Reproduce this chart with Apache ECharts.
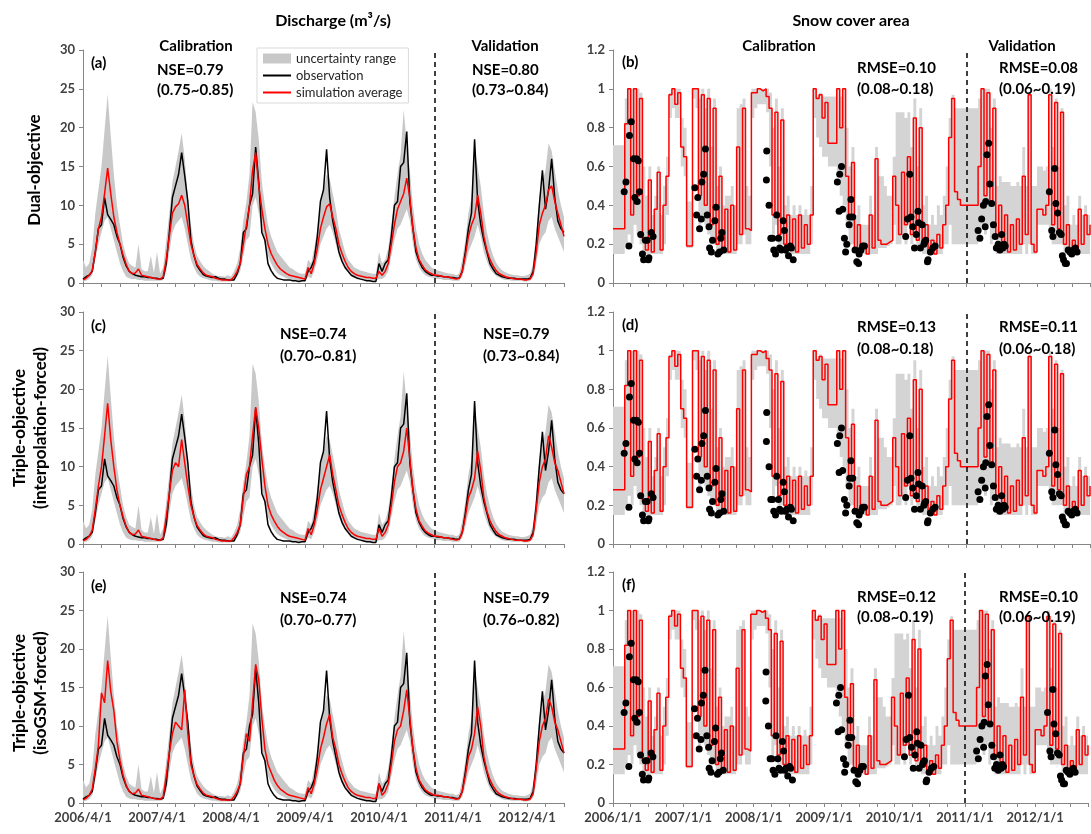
<!DOCTYPE html>
<html>
<head>
<meta charset="utf-8">
<title>Discharge and snow cover area</title>
<script src="https://cdn.jsdelivr.net/npm/echarts@6/dist/echarts.min.js"></script>
<style>
  html, body { margin: 0; padding: 0; background: #fff; }
  #main { width: 1091px; height: 834px; }
</style>
</head>
<body>
<div id="main"></div>
<script>
// discharge (m3/s), one value every half month from 2006/4/1
var qObs = [
  0.5,0.8,1.0,1.5,4.0,7.0,7.5,11.0,8.8,8.2,7.5,6.0,5.0,3.3,2.2,1.5,1.2,1.0,0.9,0.8,0.8,0.7,0.7,0.6,
  0.6,0.5,0.6,2.5,6.5,11.0,12.5,14.0,16.8,13.8,10.5,5.5,3.5,2.2,1.6,1.1,0.9,0.8,0.7,0.8,0.6,0.5,0.5,0.4,
  0.4,0.4,1.2,2.5,6.5,7.0,10.0,11.5,17.5,13.0,6.5,5.5,2.5,1.6,1.0,0.6,0.5,0.4,0.4,0.4,0.3,0.3,0.2,0.3,
  0.3,1.5,2.0,3.0,6.0,10.5,12.0,17.2,11.0,8.0,6.0,4.0,2.8,2.0,1.5,1.0,0.8,0.6,0.5,0.4,0.3,0.3,0.2,0.2,
  2.5,1.5,2.5,3.0,6.0,10.0,10.5,15.0,15.5,19.5,10.5,7.0,4.0,2.8,2.0,1.5,1.2,1.0,1.0,0.9,0.9,0.8,0.8,0.7,
  0.7,0.6,0.6,1.5,4.0,7.0,9.0,18.5,10.5,7.5,5.5,4.0,2.5,1.8,1.2,1.0,0.8,0.7,0.6,0.6,0.6,0.5,0.5,0.5,
  0.5,0.6,1.5,5.0,10.0,14.5,9.5,12.0,16.0,11.0,8.0,7.0,6.5
];
var qSimA = [
  0.4,0.6,1.0,1.6,4.0,7.0,8.5,11.5,14.8,11.5,8.5,6.5,5.0,3.6,2.4,1.5,1.2,1.3,1.8,1.0,0.9,0.8,0.7,0.6,
  0.5,0.5,0.8,3.0,6.0,9.0,9.8,10.2,11.3,10.0,7.5,5.0,3.5,2.4,1.8,1.3,1.0,0.9,0.8,0.6,0.5,0.4,0.4,0.4,
  0.4,0.8,1.5,2.5,5.0,7.5,10.0,14.5,16.8,12.5,9.5,7.0,5.0,3.8,3.0,2.3,1.8,1.5,1.2,1.0,0.9,0.8,0.7,0.6,
  0.5,2.0,1.2,2.5,4.5,7.0,8.5,9.8,10.2,8.5,7.0,5.0,3.8,2.8,2.0,1.5,1.2,1.0,0.9,0.8,0.7,0.7,0.6,0.6,
  1.5,1.0,1.5,2.5,5.0,7.5,9.5,10.5,11.5,13.5,11.0,7.0,4.5,3.0,2.3,1.7,1.4,1.2,1.0,1.0,0.9,0.8,0.8,0.7,
  0.6,0.5,0.6,1.5,3.5,6.0,7.5,8.5,11.3,9.0,6.0,4.2,3.0,2.2,1.6,1.2,1.0,0.8,0.7,0.6,0.5,0.5,0.5,0.4,
  0.4,0.5,1.2,4.0,7.5,9.0,10.0,12.0,12.5,10.5,9.0,7.5,6.0
];
var qSimC = [
  0.4,0.6,1.0,1.8,4.5,7.5,10.0,14.0,18.2,13.5,10.0,7.0,5.0,3.5,2.3,1.5,1.2,1.3,1.8,1.0,0.9,0.8,0.7,0.6,
  0.5,0.5,0.8,3.5,6.5,9.5,10.5,10.0,13.5,10.5,7.5,5.0,3.5,2.4,1.8,1.3,1.0,0.9,0.8,0.6,0.5,0.4,0.4,0.4,
  0.4,0.8,1.5,2.5,6.0,9.0,10.0,14.0,17.7,15.0,11.0,7.5,5.0,3.8,3.0,2.3,1.8,1.5,1.2,1.0,0.9,0.8,0.7,0.6,
  0.5,2.0,1.2,2.5,4.5,7.0,8.5,10.0,11.5,9.0,7.0,5.0,3.8,2.8,2.0,1.5,1.2,1.0,0.9,0.8,0.7,0.7,0.6,0.6,
  2.0,1.0,1.5,2.5,5.0,8.0,10.0,10.5,12.0,15.0,11.0,7.0,4.5,3.0,2.3,1.7,1.4,1.2,1.0,1.0,0.9,0.8,0.8,0.7,
  0.6,0.5,0.6,1.5,3.5,6.0,7.0,8.5,12.0,9.5,6.0,4.2,3.0,2.2,1.6,1.2,1.0,0.8,0.7,0.6,0.5,0.5,0.5,0.4,
  0.4,0.5,1.2,4.5,8.0,10.0,11.0,14.0,12.5,10.5,9.5,8.0,6.5
];
var qSimE = [
  0.4,0.6,1.0,1.8,4.5,7.5,14.3,13.0,18.5,14.5,12.0,8.0,5.5,3.6,2.3,1.5,1.2,1.3,1.8,1.0,0.9,0.8,0.7,0.6,
  0.5,0.5,0.8,3.5,6.5,9.0,10.5,10.0,9.5,14.7,9.0,5.0,3.5,2.4,1.8,1.3,1.0,0.9,0.8,0.6,0.5,0.4,0.4,0.4,
  0.4,0.8,1.5,2.5,6.0,9.0,8.0,13.0,18.0,16.0,11.0,7.0,5.0,4.0,3.0,2.3,1.8,1.5,1.2,1.0,0.9,0.8,0.7,0.6,
  0.5,2.0,1.2,2.5,4.5,7.0,8.5,10.3,11.5,8.5,7.0,5.0,3.8,2.8,2.0,1.5,1.2,1.0,0.9,0.8,0.7,0.7,0.6,0.6,
  2.5,1.0,1.5,2.5,5.0,8.0,9.5,10.0,12.0,14.7,11.0,7.0,4.5,3.0,2.3,1.7,1.4,1.2,1.0,1.0,0.9,0.8,0.8,0.7,
  0.6,0.5,0.6,1.5,3.5,6.0,7.0,9.0,12.5,10.0,6.0,4.2,3.0,2.2,1.6,1.2,1.0,0.8,0.7,0.6,0.5,0.5,0.5,0.4,
  0.4,0.5,1.2,4.5,8.0,10.0,11.0,13.5,12.5,10.5,9.5,8.0,6.5
];
var qHigh = [
  3.0,2.0,2.5,4.5,9.0,12.0,15.0,19.7,24.3,19.0,14.0,10.0,7.5,5.0,3.5,2.5,2.2,2.0,5.0,1.8,1.5,1.5,3.5,1.3,
  4.0,1.2,2.0,5.5,9.0,13.0,15.0,17.0,19.3,16.0,11.0,7.5,5.0,3.5,2.8,2.2,1.8,1.5,1.2,1.0,0.9,0.9,0.8,1.0,
  0.8,1.5,2.5,4.5,8.0,10.5,14.0,23.3,22.0,18.5,13.0,10.0,7.5,6.0,5.0,4.0,3.5,3.0,2.5,2.0,1.8,1.5,1.3,1.2,
  1.2,3.0,2.5,4.5,7.0,10.0,12.0,14.0,13.5,11.5,9.5,7.0,5.5,4.0,3.0,2.5,2.0,1.8,1.6,1.5,1.4,1.3,1.2,1.2,
  4.0,2.5,3.0,4.5,7.5,11.0,14.0,16.5,22.3,18.0,14.5,10.0,7.0,5.0,3.8,3.0,2.5,2.0,1.8,1.6,1.5,1.4,1.3,1.2,
  1.2,1.0,1.2,3.0,5.5,9.0,11.0,17.0,15.0,12.5,9.0,6.5,4.8,3.5,2.6,2.0,1.6,1.4,1.2,1.1,1.0,1.0,0.9,0.9,
  1.0,1.2,2.5,6.5,11.0,13.0,14.5,18.0,17.0,14.5,12.0,10.0,8.5
];
var qLow = [
  0.2,0.3,0.5,1.0,3.0,5.0,6.5,8.0,8.5,7.0,5.5,4.0,2.5,1.5,0.8,0.6,0.5,0.5,0.4,0.4,0.3,0.3,0.3,0.3,
  0.3,0.3,0.4,1.5,4.0,6.5,7.5,8.0,8.5,7.0,5.0,3.0,2.0,1.2,0.8,0.6,0.5,0.4,0.3,0.3,0.2,0.2,0.2,0.2,
  0.2,0.4,0.8,1.5,3.5,5.5,6.0,10.0,11.0,9.0,7.0,5.0,3.5,2.5,1.8,1.3,1.0,0.8,0.6,0.5,0.4,0.4,0.3,0.3,
  0.2,0.8,0.6,1.5,3.0,5.0,6.0,7.0,7.5,6.5,5.0,3.5,2.5,1.8,1.3,1.0,0.8,0.6,0.5,0.4,0.4,0.3,0.3,0.3,
  0.5,0.5,0.8,1.5,3.5,5.5,7.0,7.5,8.5,9.5,8.0,5.0,3.0,2.0,1.4,1.0,0.8,0.7,0.6,0.5,0.5,0.4,0.4,0.4,
  0.3,0.3,0.3,0.8,2.2,4.0,5.0,6.0,7.5,6.0,4.0,2.8,1.8,1.3,0.9,0.7,0.5,0.4,0.4,0.3,0.3,0.3,0.3,0.2,
  0.2,0.3,0.7,2.5,5.0,6.0,6.5,8.0,8.5,7.0,6.0,5.0,4.0
];

// snow cover area, one value every half month from 2006/1/1
var scaSim = [
  0.28,0.28,0.28,0.28,0.82,1.0,0.35,1.0,0.45,0.95,0.22,0.17,0.53,0.16,0.38,0.57,0.17,0.40,0.55,0.97,1.0,0.92,0.98,0.70,
  0.65,0.19,0.19,1.0,1.0,0.45,0.97,0.40,0.95,0.30,0.90,0.20,0.55,0.16,0.38,0.16,0.40,0.17,0.70,0.25,0.90,0.28,0.27,0.98,
  0.98,1.0,0.99,1.0,0.96,0.90,0.35,0.88,0.25,0.84,0.20,0.35,0.17,0.33,0.16,0.35,0.18,0.30,0.20,0.35,1.0,0.95,0.97,0.85,
  0.93,0.72,0.72,0.72,1.0,0.80,1.0,0.55,0.35,0.62,0.18,0.30,0.16,0.20,0.15,0.35,0.18,0.64,0.22,0.20,0.20,0.21,0.22,0.55,
  0.40,0.25,0.57,0.30,0.65,0.25,0.85,0.22,0.80,0.20,0.30,0.16,0.22,0.15,0.25,0.18,0.30,0.40,0.75,0.95,0.47,0.43,0.40,0.40,
  0.40,0.40,0.40,0.40,0.60,1.0,0.45,0.98,0.40,0.90,0.25,0.40,0.17,0.35,0.16,0.30,0.17,0.33,0.20,0.55,0.25,0.97,0.20,0.16,
  0.38,0.38,0.35,0.40,0.97,0.30,0.93,0.28,0.88,0.20,0.30,0.15,0.22,0.16,0.38,0.20,0.35,0.25,0.30
];
var scaHigh = [
  0.71,0.71,0.71,0.71,0.95,1.0,1.0,1.0,1.0,0.98,0.60,0.45,0.60,0.35,0.45,0.60,0.35,0.50,0.65,0.98,1.0,1.0,1.0,0.85,
  0.80,0.42,0.42,1.0,1.0,0.95,1.0,0.90,1.0,0.70,0.95,0.50,0.60,0.40,0.45,0.45,0.50,0.40,0.90,0.92,0.95,0.50,0.45,1.0,
  1.0,1.0,1.0,1.0,1.0,0.98,0.80,0.95,0.60,0.90,0.40,0.45,0.35,0.40,0.35,0.40,0.35,0.38,0.35,0.50,1.0,0.96,0.98,0.96,
  0.96,0.96,0.96,0.96,1.0,0.96,1.0,0.80,0.60,0.70,0.35,0.40,0.30,0.30,0.30,0.45,0.35,0.70,0.55,0.55,0.50,0.45,0.45,0.65,
  0.88,0.88,0.88,0.85,0.88,0.70,0.95,0.60,0.90,0.40,0.45,0.30,0.35,0.30,0.40,0.35,0.45,0.60,0.85,0.97,0.90,0.90,0.90,0.90,
  0.90,0.90,0.90,0.90,0.95,1.0,1.0,1.0,0.80,0.95,0.50,0.55,0.52,0.52,0.52,0.50,0.50,0.52,0.50,0.70,0.50,0.98,0.50,0.50,
  0.60,0.60,0.58,0.60,1.0,0.70,0.95,0.60,0.90,0.40,0.45,0.30,0.35,0.30,0.45,0.35,0.40,0.35,0.35
];
var scaLow = [
  0.15,0.15,0.15,0.15,0.20,0.25,0.20,0.30,0.25,0.20,0.15,0.15,0.15,0.15,0.15,0.15,0.15,0.20,0.35,0.85,0.90,0.85,0.85,0.60,
  0.55,0.18,0.18,0.95,0.90,0.30,0.35,0.30,0.25,0.20,0.20,0.15,0.15,0.15,0.15,0.15,0.15,0.15,0.20,0.20,0.25,0.20,0.20,0.85,
  0.90,0.92,0.92,0.92,0.88,0.60,0.25,0.30,0.20,0.20,0.15,0.15,0.15,0.15,0.15,0.15,0.15,0.15,0.15,0.20,0.85,0.75,0.70,0.65,
  0.65,0.60,0.60,0.60,0.55,0.45,0.40,0.30,0.20,0.20,0.15,0.15,0.15,0.15,0.15,0.15,0.15,0.15,0.18,0.18,0.18,0.19,0.20,0.30,
  0.20,0.20,0.25,0.20,0.30,0.20,0.25,0.18,0.20,0.15,0.15,0.15,0.15,0.15,0.15,0.15,0.20,0.20,0.30,0.20,0.20,0.20,0.20,0.20,
  0.20,0.20,0.20,0.20,0.25,0.30,0.25,0.30,0.20,0.25,0.15,0.15,0.15,0.15,0.15,0.15,0.15,0.15,0.15,0.20,0.15,0.20,0.15,0.15,
  0.30,0.30,0.30,0.30,0.25,0.20,0.20,0.20,0.20,0.15,0.15,0.15,0.15,0.15,0.15,0.15,0.15,0.15,0.15
];
// observed snow cover: [months since 2006/1/1, fraction]
var scaObs = [
  [1.9,0.47],[2.2,0.52],[2.7,0.19],[2.8,0.76],[3.1,0.83],[3.5,0.64],[3.7,0.44],[4.0,0.64],[4.1,0.42],[4.3,0.63],
  [4.5,0.47],[4.7,0.25],[5.0,0.15],[5.2,0.12],[5.5,0.22],[5.8,0.22],[6.0,0.12],[6.1,0.13],[6.5,0.26],[6.8,0.24],
  [13.9,0.49],[14.2,0.35],[14.4,0.44],[14.7,0.28],[15.0,0.33],[15.1,0.52],[15.4,0.56],[15.7,0.69],[16.0,0.35],[16.3,0.29],
  [16.4,0.18],[16.7,0.16],[16.9,0.22],[17.3,0.32],[17.5,0.39],[17.8,0.15],[18.1,0.16],[18.3,0.23],[18.5,0.26],[18.8,0.17],
  [26.05,0.53],[26.1,0.68],[26.5,0.40],[26.8,0.23],[27.1,0.23],[27.3,0.17],[27.6,0.15],[27.8,0.35],[28.1,0.23],[28.3,0.18],
  [28.6,0.17],[28.9,0.32],[29.1,0.27],[29.3,0.17],[29.5,0.18],[29.8,0.14],[30.1,0.19],[30.3,0.18],[30.6,0.12],
  [38.1,0.52],[38.4,0.37],[38.5,0.56],[38.8,0.60],[39.0,0.38],[39.3,0.23],[39.5,0.16],[39.7,0.20],[40.1,0.30],[40.2,0.34],
  [40.4,0.43],[40.7,0.34],[41.1,0.17],[41.4,0.11],[41.7,0.10],[41.8,0.15],[42.1,0.17],[42.4,0.19],[42.7,0.19],
  [49.7,0.24],[50.0,0.33],[50.4,0.56],[50.6,0.34],[50.9,0.29],[51.2,0.18],[51.5,0.25],[51.8,0.37],[51.9,0.31],[52.2,0.18],
  [52.5,0.30],[52.8,0.20],[52.9,0.21],[53.1,0.22],[53.4,0.11],[53.5,0.12],[53.9,0.16],[54.3,0.18],[54.7,0.19],
  [62.0,0.27],[62.3,0.23],[62.6,0.33],[62.9,0.40],[63.2,0.29],[63.3,0.42],[63.5,0.66],[63.8,0.72],[64.0,0.51],[64.3,0.41],
  [64.6,0.30],[64.9,0.24],[65.1,0.18],[65.4,0.20],[65.7,0.17],[66.0,0.25],[66.2,0.18],[66.4,0.20],[66.6,0.19],
  [74.1,0.47],[74.5,0.27],[74.7,0.24],[75.0,0.59],[75.2,0.41],[75.5,0.36],[75.8,0.26],[76.1,0.25],[76.3,0.14],[76.5,0.12],
  [76.8,0.10],[77.0,0.10],[77.3,0.17],[77.6,0.16],[77.9,0.15],[78.2,0.17],[78.5,0.18],[78.8,0.16]
];

// tick / axis settings
var qYTicks = [0, 30, 5];
var scaYTicks = [0, 1.2, 0.2];
var qMonths = 78;    // 2006/4/1 .. 2012/10/1
var scaMonths = 81;  // 2006/1/1 .. 2012/10/1
var qSplit = 57;     // 2011/1/1 on discharge axis
var scaSplit = 60;   // 2011/1/1 on snow axis
var qSims = [qSimA, qSimC, qSimE];

var FONT = 'Lato';
var AXIS = '#868686';
var LABEL = '#404040';
var GRAY = '#c8c8c8';

var chart = echarts.init(document.getElementById('main'));

function toPairs(arr) {
  return arr.map(function (v, i) { return [i * 0.5, v]; });
}

// uncertainty band as one polygon, placed through the axis scales
function bandSeries(g, hi, lo, stepped, color) {
  return {
    type: 'custom', name: 'uncertainty range', xAxisIndex: g, yAxisIndex: g,
    data: [0], silent: true, clip: true, z: 1, itemStyle: {color: color},
    renderItem: function (params, api) {
      var top = [], bottom = [];
      for (var i = 0; i < hi.length; i++) {
        top.push(api.coord([i * 0.5, hi[i]]));
        bottom.push(api.coord([i * 0.5, lo[i]]));
        if (stepped && i < hi.length - 1) {
          top.push(api.coord([(i + 1) * 0.5, hi[i]]));
          bottom.push(api.coord([(i + 1) * 0.5, lo[i]]));
        }
      }
      return {
        type: 'polygon', shape: {points: top.concat(bottom.reverse())},
        style: {fill: color, stroke: null}
      };
    }
  };
}

var rows = [
  {top: 50, height: 233},
  {top: 312, height: 232},
  {top: 572, height: 231}
];

var grid = [], xAxis = [], yAxis = [], series = [];

rows.forEach(function (r, row) {
  [true, false].forEach(function (isQ) {
    var g = grid.length;
    grid.push({left: isQ ? 83 : 613, top: r.top, width: isQ ? 481 : 477, height: r.height});
    xAxis.push({
      type: 'value', gridIndex: g, min: 0, max: isQ ? qMonths : scaMonths, interval: 3,
      axisLine: {show: true, lineStyle: {color: AXIS, width: 1}},
      axisTick: {show: true, length: 4, lineStyle: {color: AXIS}},
      splitLine: {show: false},
      axisLabel: {
        show: row === 2, margin: 8, color: LABEL, fontFamily: FONT, fontWeight: 'bold', fontSize: 13,
        formatter: function (v) {
          if (v % 12 !== 0) return '';
          return (2006 + v / 12) + (isQ ? '/4/1' : '/1/1');
        }
      }
    });
    var t = isQ ? qYTicks : scaYTicks;
    yAxis.push({
      type: 'value', gridIndex: g, min: t[0], max: t[1], interval: t[2],
      axisLine: {show: true, lineStyle: {color: AXIS, width: 1}},
      axisTick: {show: true, length: 4, lineStyle: {color: AXIS}},
      splitLine: {show: false},
      axisLabel: {
        margin: 8, color: LABEL, fontFamily: FONT, fontWeight: 'bold', fontSize: 13,
        formatter: function (v) { return String(+v.toFixed(1)); }
      }
    });

    var split = {
      silent: true, symbol: ['none', 'none'], label: {show: false},
      lineStyle: {color: '#000', type: [5, 4], width: 1.5},
      data: [{xAxis: isQ ? qSplit : scaSplit}]
    };

    if (isQ) {
      series.push(bandSeries(g, qHigh, qLow, false, GRAY));
      series.push({
        type: 'line', name: 'observation', xAxisIndex: g, yAxisIndex: g, data: toPairs(qObs), z: 2,
        symbol: 'none', silent: true, lineStyle: {color: '#000', width: 1.5}, itemStyle: {color: '#000'}
      });
      series.push({
        type: 'line', name: 'simulation average', xAxisIndex: g, yAxisIndex: g, data: toPairs(qSims[row]), z: 3,
        symbol: 'none', silent: true, lineStyle: {color: '#ff0000', width: 1.5}, itemStyle: {color: '#ff0000'},
        markLine: split
      });
    } else {
      series.push(bandSeries(g, scaHigh, scaLow, true, '#d4d4d4'));
      series.push({
        type: 'line', step: 'end', name: 'simulation average', xAxisIndex: g, yAxisIndex: g, z: 3,
        data: toPairs(scaSim), symbol: 'none', silent: true,
        lineStyle: {color: '#ff0000', width: 1.5}, itemStyle: {color: '#ff0000'}, markLine: split
      });
      series.push({
        type: 'scatter', name: 'observed SCA', xAxisIndex: g, yAxisIndex: g, data: scaObs, z: 4,
        symbolSize: 7, silent: true, itemStyle: {color: '#000', opacity: 1}
      });
    }
  });
});

// text helpers
function txt(x, y, s, size, align, weight) {
  return {
    type: 'text', x: x, y: y, silent: true, z: 100,
    style: {
      text: s, fill: '#000', font: (weight || 'bold') + ' ' + size + 'px ' + FONT,
      align: align || 'left', textAlign: align || 'left', verticalAlign: 'middle', textVerticalAlign: 'middle'
    }
  };
}
function vtxt(x, y, s) {
  var el = txt(x, y, s, 17, 'center');
  el.rotation = Math.PI / 2;
  el.style.lineHeight = 21;
  return el;
}

var graphic = [
  txt(333, 21, 'Discharge (m³/s)', 16, 'center'),
  txt(851, 21, 'Snow cover area', 16, 'center'),
  vtxt(35, 170, 'Dual-objective'),
  vtxt(30, 428, 'Triple-objective\n(interpolation-forced)'),
  vtxt(30, 693, 'Triple-objective\n(isoGSM-forced)'),

  txt(196, 46, 'Calibration', 15, 'center'),
  txt(505, 46, 'Validation', 15, 'center'),
  txt(779, 46, 'Calibration', 15, 'center'),
  txt(1022, 46, 'Validation', 15, 'center'),

  txt(91, 63, '(a)', 15),
  txt(157, 70, 'NSE=0.79', 15),
  txt(157, 90, '(0.75~0.85)', 15),
  txt(472, 70, 'NSE=0.80', 15),
  txt(472, 90, '(0.73~0.84)', 15),
  txt(622, 62, '(b)', 15),
  txt(857, 68, 'RMSE=0.10', 15),
  txt(857, 89, '(0.08~0.18)', 15),
  txt(999, 68, 'RMSE=0.08', 15),
  txt(999, 89, '(0.06~0.19)', 15),

  txt(91, 326, '(c)', 15),
  txt(280, 334, 'NSE=0.74', 15),
  txt(280, 356, '(0.70~0.81)', 15),
  txt(483, 334, 'NSE=0.79', 15),
  txt(483, 356, '(0.73~0.84)', 15),
  txt(622, 325, '(d)', 15),
  txt(857, 327, 'RMSE=0.13', 15),
  txt(857, 349, '(0.08~0.18)', 15),
  txt(999, 327, 'RMSE=0.11', 15),
  txt(999, 349, '(0.06~0.18)', 15),

  txt(91, 586, '(e)', 15),
  txt(280, 598, 'NSE=0.74', 15),
  txt(280, 620, '(0.70~0.77)', 15),
  txt(483, 598, 'NSE=0.79', 15),
  txt(483, 620, '(0.76~0.82)', 15),
  txt(622, 585, '(f)', 15),
  txt(857, 597, 'RMSE=0.12', 15),
  txt(857, 617, '(0.08~0.19)', 15),
  txt(999, 597, 'RMSE=0.10', 15),
  txt(999, 617, '(0.06~0.19)', 15)
];

var option = {
  backgroundColor: '#fff',
  animation: false,
  grid: grid,
  xAxis: xAxis,
  yAxis: yAxis,
  legend: {
    left: 257, top: 48, orient: 'vertical', selectedMode: false, z: 50,
    itemWidth: 28, itemHeight: 10, itemGap: 4, padding: [4, 6, 4, 6],
    borderColor: '#d9d9d9', borderWidth: 1, backgroundColor: '#fff',
    textStyle: {fontFamily: FONT, fontSize: 13, color: '#262626'},
    data: [
      {name: 'uncertainty range', icon: 'rect', itemStyle: {color: GRAY}},
      {name: 'observation', icon: 'path://M0,0H28V2H0Z'},
      {name: 'simulation average', icon: 'path://M0,0H28V2H0Z'}
    ]
  },
  graphic: graphic,
  series: series
};
chart.setOption(option);
</script>
</body>
</html>
